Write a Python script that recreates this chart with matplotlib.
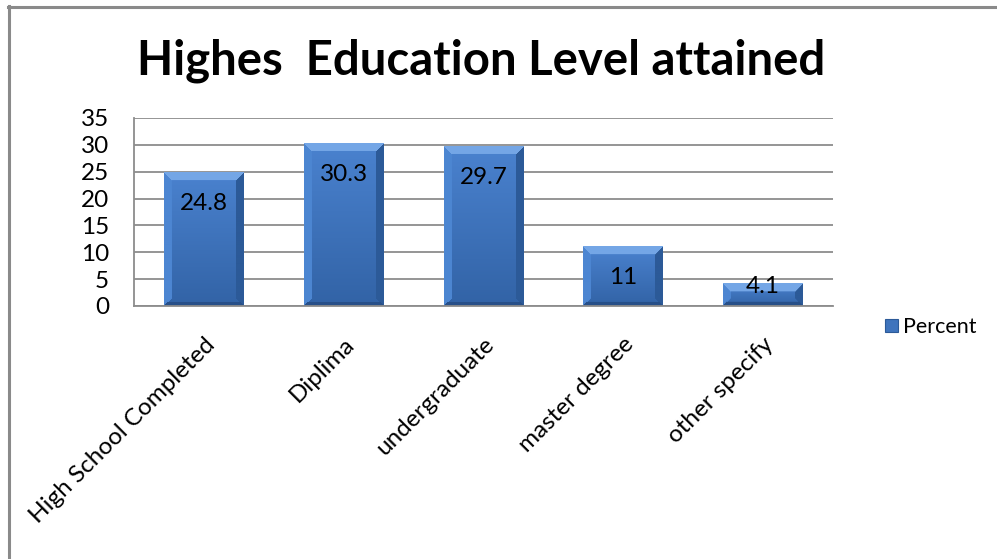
import numpy as np
import matplotlib
matplotlib.use("Agg")
import matplotlib.pyplot as plt
from matplotlib.patches import Patch
from matplotlib.lines import Line2D

categories = ["High School Completed", "Diplima", "undergraduate", "master degree", "other specify"]
percent = [24.8, 30.3, 29.7, 11, 4.1]
yticks = [0, 5, 10, 15, 20, 25, 30, 35]
title = "Highes  Education Level attained"
series_name = "Percent"

plt.rcParams["font.family"] = ["Lato", "DejaVu Sans"]

W, H, DPI = 997, 559, 100
fig = plt.figure(figsize=(W / DPI, H / DPI), dpi=DPI)
ax = fig.add_axes([134 / W, 1 - 306 / H, (833 - 134) / W, (306 - 118) / H])

x = np.arange(len(categories))
bars = ax.bar(x, percent, width=0.57, color="none", edgecolor="none", zorder=2)

ax.set_xlim(-0.5, len(categories) - 0.5)
ax.set_ylim(0, 35)
ax.set_yticks(yticks)
ax.set_xticks(x)
ax.set_xticklabels(categories, rotation=45, ha="right", va="top",
                   rotation_mode="anchor", fontsize=17.5)
ax.tick_params(axis="y", labelsize=17.5, length=0, pad=18)
ax.tick_params(axis="x", length=0, pad=20)
ax.yaxis.grid(True, color="#8c8c8c", lw=1.3, zorder=0)
ax.set_axisbelow(True)
for s in ["top", "right"]:
    ax.spines[s].set_visible(False)
for s in ["left", "bottom"]:
    ax.spines[s].set_color("#8c8c8c")
    ax.spines[s].set_linewidth(1.3)

# bevelled blue fill, one image per bar
fig.canvas.draw()
c_top = np.array([0x74, 0xa6, 0xe6]) / 255
c_left = np.array([0x4d, 0x86, 0xd2]) / 255
c_right = np.array([0x2c, 0x5a, 0x98]) / 255
c_bot = np.array([0x27, 0x4f, 0x88]) / 255
c_body_hi = np.array([0x4a, 0x82, 0xcf]) / 255
c_body_lo = np.array([0x32, 0x63, 0xa6]) / 255
bev = 8
for b in bars:
    x0, w, h = b.get_x(), b.get_width(), b.get_height()
    (px0, py0), (px1, py1) = ax.transData.transform([(x0, 0), (x0 + w, h)])
    nw, nh = max(int(round(px1 - px0)), 2), max(int(round(py1 - py0)), 2)
    ii, jj = np.mgrid[0:nh, 0:nw]
    dt, db = ii, nh - 1 - ii
    dl, dr = jj, nw - 1 - jj
    t = (ii / max(nh - 1, 1))[..., None]
    img = c_body_hi * (1 - t) + c_body_lo * t
    dmin = np.minimum(np.minimum(dt, db), np.minimum(dl, dr))
    face = dmin < bev
    img[face & (dl == dmin)] = c_left
    img[face & (dr == dmin)] = c_right
    img[face & (db == dmin) & (db < 4)] = c_bot
    img[face & (dt == dmin)] = c_top
    ax.imshow(img, extent=(x0, x0 + w, 0, h), aspect="auto",
              interpolation="bilinear", zorder=2)

ax.set_xlim(-0.5, len(categories) - 0.5)
ax.set_ylim(0, 35)

for xi, v in zip(x, percent):
    off = -31 if v > 8 else -3
    ax.annotate(f"{v:g}", xy=(xi, v), xytext=(0, off * 72 / DPI),
                textcoords="offset points", ha="center", va="center",
                fontsize=17.5, zorder=3)

fig.text(481 / W, 1 - 61 / H, title, ha="center", va="center",
         fontsize=34, fontweight="bold")

handle = Patch(facecolor="#3f74bd", edgecolor="#2c5a98", lw=0.8)
fig.legend([handle], [series_name], loc="center left",
           bbox_to_anchor=(885 / W, 1 - 327 / H), frameon=False,
           fontsize=15.5, handlelength=0.6, handleheight=0.6, handletextpad=0.25,
           borderaxespad=0, borderpad=0)

# outer chart frame (left and top edges)
fig.add_artist(Line2D([9 / W, 9 / W], [0, 1 - 6 / H], color="#8a8a8a", lw=2.2,
                      transform=fig.transFigure))
fig.add_artist(Line2D([8 / W, 1], [1 - 6.5 / H, 1 - 6.5 / H], color="#8a8a8a", lw=2.2,
                      transform=fig.transFigure))

fig.savefig("out.png", dpi=DPI)
